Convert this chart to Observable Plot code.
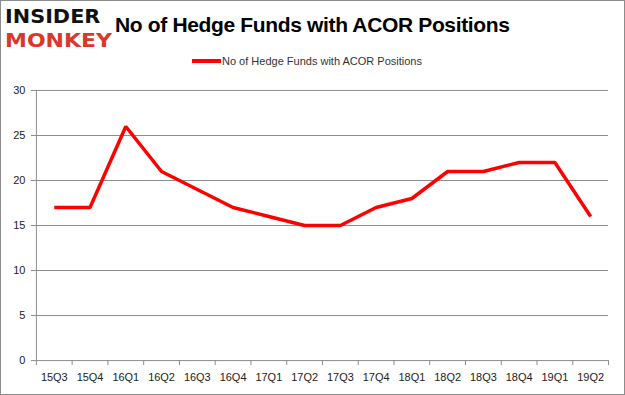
<!DOCTYPE html>
<html><head><meta charset="utf-8">
<script src="https://cdn.jsdelivr.net/npm/d3@7"></script>
<script src="https://cdn.jsdelivr.net/npm/@observablehq/plot@0.6"></script>
<style>
html,body{margin:0;padding:0;background:#fff;}
#wrap{position:relative;width:623px;height:393px;border:1px solid #8c8c8c;overflow:hidden;font-family:"Liberation Sans",Arial,sans-serif;}
#logo1,#logo2{position:absolute;left:4px;font-family:"DejaVu Sans",sans-serif;font-weight:bold;font-size:20px;line-height:normal;white-space:nowrap;transform-origin:0 0;}
#logo1{top:3px;color:#111;transform:scaleX(1.04);}
#logo2{top:27px;color:#d9382a;transform:scaleX(1.1);}
#title{position:absolute;left:114px;top:12px;font-family:"Liberation Sans",Arial,sans-serif;font-weight:bold;font-size:21px;color:#000;white-space:nowrap;letter-spacing:-0.35px;}
#legend{position:absolute;left:191px;top:54px;font-size:11px;color:#333;white-space:nowrap;display:flex;align-items:center;}
#legend .sw{display:inline-block;width:29px;height:4px;background:#ff0000;margin-right:1px;}
#chart{position:absolute;left:0;top:75px;}
</style></head>
<body>
<div id="wrap">
  <div id="logo1">INSIDER</div>
  <div id="logo2">MONKEY</div>
  <div id="title"></div>
  <div id="legend"><span class="sw"></span><span id="legtext"></span></div>
  <div id="chart"></div>
</div>
<script>
const title = "No of Hedge Funds with ACOR Positions";
const seriesName = "No of Hedge Funds with ACOR Positions";
const quarters = ["15Q3","15Q4","16Q1","16Q2","16Q3","16Q4","17Q1","17Q2","17Q3","17Q4","18Q1","18Q2","18Q3","18Q4","19Q1","19Q2"];
const values = [17,17,26,21,19,17,16,15,15,17,18,21,21,22,22,16];
const yTicks = [0,5,10,15,20,25,30];

document.getElementById("title").textContent = title;
document.getElementById("legtext").textContent = seriesName;

const data = quarters.map((q,i)=>({i, q, v: values[i]}));
const xDomain = [-0.5, quarters.length - 0.5];
const boundaries = d3.range(quarters.length + 1).map(k => k - 0.5);

const chart = Plot.plot({
  width: 625,
  height: 320,
  marginLeft: 35,
  marginRight: 16,
  marginTop: 14,
  marginBottom: 35,
  style: {fontFamily: "Liberation Sans, Arial, sans-serif", fontSize: "11px", color: "#333", background: "transparent"},
  x: {type: "linear", domain: xDomain, axis: null},
  y: {domain: [0, 30], axis: null},
  marks: [
    Plot.ruleY(yTicks, {stroke: "#8c8c8c", strokeWidth: 1}),
    Plot.ruleX([xDomain[0]], {stroke: "#8c8c8c", strokeWidth: 1}),
    Plot.axisY(yTicks, {label: null, tickSize: 5, tickPadding: 6, stroke: "#8c8c8c", fill: "#222", fontSize: 11}),
    Plot.axisX(boundaries, {label: null, tickSize: 5, tickFormat: () => "", stroke: "#8c8c8c"}),
    Plot.axisX(d3.range(quarters.length), {label: null, tickSize: 0, tickPadding: 13, tickFormat: i => quarters[i], fill: "#222", fontSize: 11}),
    Plot.line(data, {x: "i", y: "v", stroke: "#ff0000", strokeWidth: 3.5, strokeLinejoin: "miter", strokeLinecap: "butt"})
  ]
});
document.getElementById("chart").appendChild(chart);
</script>
</body></html>
